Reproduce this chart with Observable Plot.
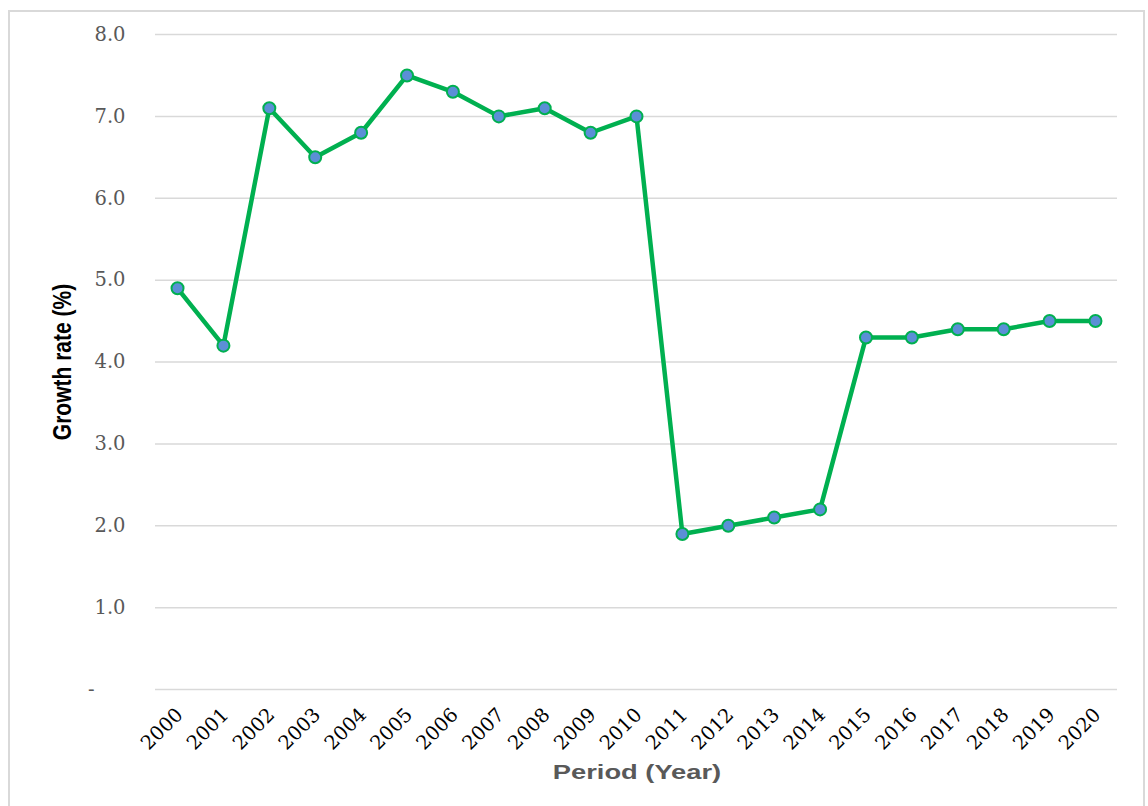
<!DOCTYPE html>
<html><head><meta charset="utf-8">
<script src="https://cdn.jsdelivr.net/npm/d3@7"></script>
<script src="https://cdn.jsdelivr.net/npm/@observablehq/plot@0.6"></script>
<style>
body{margin:0;background:#fff;}
#wrap{position:relative;width:1148px;height:806px;overflow:hidden;background:#fff;}
#frame{position:absolute;left:8px;top:10px;width:1137px;height:820px;border:2px solid #d9d9d9;box-sizing:border-box;}
#chart{position:absolute;left:0;top:0;}
.ytitle{position:absolute;left:62px;top:362px;transform:translate(-50%,-50%) rotate(-90deg) scaleY(1.25);font:bold 21px "Liberation Sans",Arial,sans-serif;color:#000;white-space:nowrap;}
.xtitle{position:absolute;left:637px;top:772px;transform:translate(-50%,-50%) scaleX(1.3);font:bold 21px "Liberation Sans",Arial,sans-serif;color:#595959;white-space:nowrap;}
</style>
</head><body>
<div id="wrap">
<div id="frame"></div>
<div id="chart"></div>
<div class="ytitle">Growth rate (%)</div>
<div class="xtitle">Period (Year)</div>
</div>
<script>
const years = [2000,2001,2002,2003,2004,2005,2006,2007,2008,2009,2010,2011,2012,2013,2014,2015,2016,2017,2018,2019,2020];
const growth = [4.9,4.2,7.1,6.5,6.8,7.5,7.3,7.0,7.1,6.8,7.0,1.9,2.0,2.1,2.2,4.3,4.3,4.4,4.4,4.5,4.5];
const yTicks = [0,1,2,3,4,5,6,7,8];

const data = years.map((y,i)=>({year:y, value:growth[i]}));

const chart = Plot.plot({
  width:1148, height:806,
  marginLeft:155, marginRight:31, marginTop:34, marginBottom:117,
  style:{background:"transparent", overflow:"visible"},
  x:{type:"linear", domain:[1999.52, 2020.48], label:null},
  y:{domain:[0,8], label:null},
  marks:[
    Plot.gridY({ticks:yTicks, stroke:"#d9d9d9", strokeOpacity:1, strokeWidth:1.5}),
    Plot.axisY({ticks:yTicks, tickSize:0, tickPadding:30, label:null,
      tickFormat: d => d === 0 ? "-\u00a0\u00a0\u00a0\u00a0\u00a0" : d.toFixed(1),
      fontSize:19.5, fontFamily:"DejaVu Serif", fill:"#595959"}),
    Plot.axisX({ticks:years, tickFormat:d => String(d), tickSize:0, tickRotate:-45, tickPadding:22, dx:2, label:null,
      fontSize:19.5, fontFamily:"DejaVu Serif", fill:"#000"}),
    Plot.line(data,{x:"year", y:"value", stroke:"#00b050", strokeWidth:4.5}),
    Plot.dot(data,{x:"year", y:"value", r:6, fill:"#5b8fd6", stroke:"#00b050", strokeWidth:2})
  ]
});
document.getElementById("chart").appendChild(chart);
</script>
</body></html>
